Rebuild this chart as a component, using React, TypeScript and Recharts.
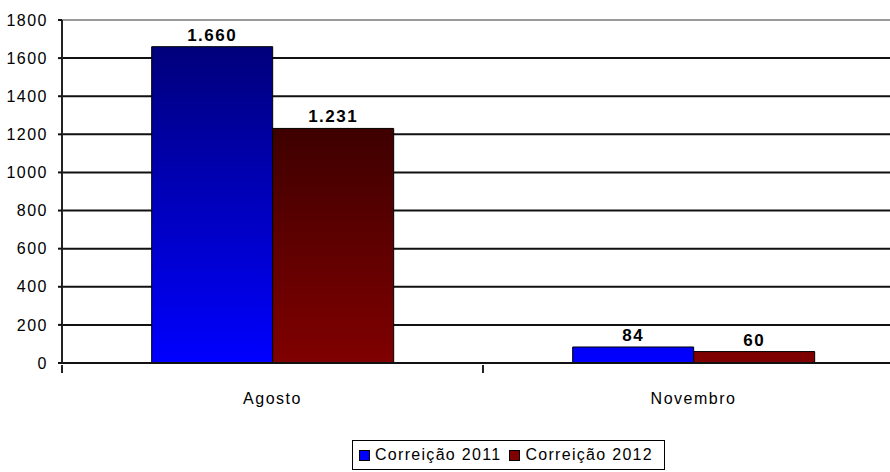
import { BarChart, Bar, XAxis, YAxis, CartesianGrid, LabelList, Legend, ReferenceLine } from 'recharts';

const categories = ['Agosto', 'Novembro'];
const correicao2011 = [1660, 84];
const correicao2012 = [1231, 60];
const seriesNames = ['Correição 2011', 'Correição 2012'];
const yTicks = [0, 200, 400, 600, 800, 1000, 1200, 1400, 1600, 1800];

const data = categories.map((name, i) => ({ name, a: correicao2011[i], b: correicao2012[i] }));

const W = 890;
const H = 472;
const TOP = 20;
const BOTTOM = 109;
const RIGHT = -14;
const Y_W = 62;
const BAND = (W - Y_W - RIGHT) / categories.length;
const FONT = '"Liberation Sans", Arial, sans-serif';

// 1660 -> "1.660"
const fmt = (v: any) => String(v).replace(/\B(?=(\d{3})+(?!\d))/g, '.');

// category label plus tick marks on the category boundaries (Excel style)
function CatTick(props: any) {
  const { x, y, payload, index } = props;
  const edges = [x - BAND / 2];
  if (index === categories.length - 1) edges.push(x + BAND / 2);
  return (
    <g>
      {edges.map((ex) => (
        <line key={ex} x1={ex} x2={ex} y1={y} y2={y + 8} stroke="#222" strokeWidth={2} />
      ))}
      <text x={x} y={y + 28} dy="0.71em" textAnchor="middle" fill="#000" fontSize={16} fontFamily={FONT} letterSpacing={1.5}>
        {payload.value}
      </text>
    </g>
  );
}

function LegendBox() {
  const swatches = ['#0000ff', '#800000'];
  return (
    <div style={{ border: '1px solid #000', background: '#fff', height: 30, boxSizing: 'border-box', display: 'flex', alignItems: 'center', paddingLeft: 6, fontFamily: FONT, fontSize: 16, letterSpacing: 1.3, color: '#000' }}>
      {seriesNames.map((n, i) => (
        <span key={n} style={{ display: 'flex', alignItems: 'center', marginRight: 8 }}>
          <span style={{ width: 9, height: 9, background: swatches[i], border: '1px solid #000', marginRight: 5, display: 'inline-block' }} />
          {n}
        </span>
      ))}
    </div>
  );
}

export default function App() {
  return (
    <div style={{ position: 'absolute', left: 0, top: 0, width: W, height: H, background: '#fff', overflow: 'hidden' }}>
      <BarChart width={W} height={H} data={data} margin={{ top: TOP, right: RIGHT, bottom: BOTTOM - 1, left: 0 }} barGap={0} barCategoryGap="21.3%">
        <defs>
          <linearGradient id="g2011" gradientUnits="userSpaceOnUse" x1="0" y1={TOP} x2="0" y2={H - BOTTOM}>
            <stop offset="0%" stopColor="#000070" />
            <stop offset="100%" stopColor="#0000ff" />
          </linearGradient>
          <linearGradient id="g2012" gradientUnits="userSpaceOnUse" x1="0" y1={TOP} x2="0" y2={H - BOTTOM}>
            <stop offset="0%" stopColor="#200000" />
            <stop offset="100%" stopColor="#800000" />
          </linearGradient>
        </defs>
        <CartesianGrid vertical={false} stroke="#111" strokeWidth={2} />
        <ReferenceLine y={1800} stroke="#9a9a9a" strokeWidth={2} />
        <XAxis dataKey="name" height={1} interval={0} tickSize={0} tickLine={false} axisLine={{ stroke: '#111', strokeWidth: 2 }} tick={<CatTick />} />
        <YAxis width={Y_W} domain={[0, 1800]} ticks={yTicks} interval={0} tickSize={4} tickMargin={10} axisLine={{ stroke: '#222', strokeWidth: 2 }} tickLine={{ stroke: '#111', strokeWidth: 2 }} tick={{ fill: '#000', fontSize: 16, fontFamily: FONT, letterSpacing: 1.5 }} />
        <Bar dataKey="a" name={seriesNames[0]} fill="url(#g2011)" stroke="#000" strokeWidth={1} isAnimationActive={false}>
          <LabelList dataKey="a" position="top" offset={6} formatter={fmt} style={{ fill: '#000', fontSize: 17, fontWeight: 'bold', fontFamily: FONT, letterSpacing: 1.5 }} />
        </Bar>
        <Bar dataKey="b" name={seriesNames[1]} fill="url(#g2012)" stroke="#000" strokeWidth={1} isAnimationActive={false}>
          <LabelList dataKey="b" position="top" offset={6} formatter={fmt} style={{ fill: '#000', fontSize: 17, fontWeight: 'bold', fontFamily: FONT, letterSpacing: 1.5 }} />
        </Bar>
        <Legend layout="horizontal" verticalAlign="middle" align="center" content={<LegendBox />} wrapperStyle={{ left: 352, top: 440, width: 313, height: 30 }} />
      </BarChart>
    </div>
  );
}
